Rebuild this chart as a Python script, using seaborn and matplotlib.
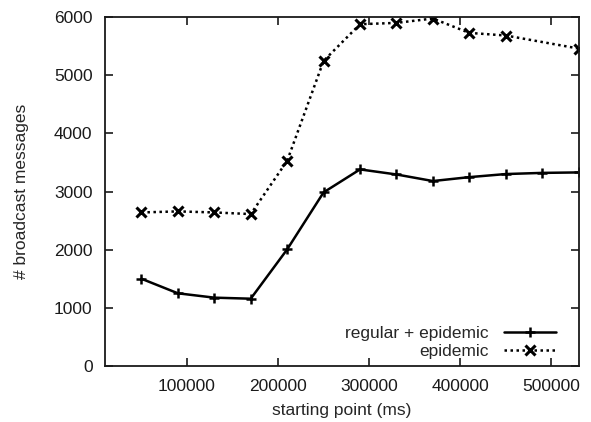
import matplotlib
matplotlib.use("Agg")
import matplotlib.pyplot as plt
import seaborn as sns
import pandas as pd

# Start time of the broadcast (ms)
start_regular = [50000, 90000, 130000, 170000, 210000, 250000, 290000,
                 330000, 370000, 410000, 450000, 490000, 530000]
msgs_regular = [1500, 1250, 1175, 1157, 2005, 2985, 3380,
                3293, 3180, 3247, 3300, 3320, 3328]

start_epidemic = [50000, 90000, 130000, 170000, 210000, 250000, 290000,
                  330000, 370000, 410000, 450000, 530000]
msgs_epidemic = [2640, 2658, 2640, 2612, 3527, 5246, 5876,
                 5899, 5974, 5727, 5682, 5458]

x_ticks = [100000, 200000, 300000, 400000, 500000]
y_ticks = [0, 1000, 2000, 3000, 4000, 5000, 6000]

sns.set_style("ticks")
plt.rcParams["font.family"] = ["Liberation Sans", "DejaVu Sans"]
plt.rcParams["font.size"] = 12.5

fig = plt.figure(figsize=(5.91, 4.22), dpi=100)
ax = fig.add_axes([0.1777, 0.1327, 0.979 - 0.1777, 0.9597 - 0.1327])

df_reg = pd.DataFrame({"x": start_regular, "y": msgs_regular})
df_epi = pd.DataFrame({"x": start_epidemic, "y": msgs_epidemic})

sns.lineplot(data=df_reg, x="x", y="y", ax=ax, color="black", linewidth=1.8,
             marker="+", markersize=7.5, markeredgewidth=1.8,
             markeredgecolor="black", label="regular + epidemic")
sns.lineplot(data=df_epi, x="x", y="y", ax=ax, color="black", linewidth=1.8,
             linestyle=(0, (1, 1.4)), marker="x", markersize=7,
             markeredgewidth=2.2, markeredgecolor="black", label="epidemic")

ax.set_xlim(10000, 530000)
ax.set_ylim(0, 6000)
ax.set_xticks(x_ticks)
ax.set_yticks(y_ticks)
ax.set_xticklabels([str(v) for v in x_ticks])
ax.set_yticklabels([str(v) for v in y_ticks])
ax.tick_params(direction="in", length=5.5, width=1.2, top=True, right=True,
               labelsize=12.5, pad=9, colors="#1a1a1a")
for s in ax.spines.values():
    s.set_linewidth(1.3)
    s.set_color("#1a1a1a")

ax.set_xlabel("starting point (ms)", fontsize=12.5, labelpad=7)
ax.set_ylabel("# broadcast messages", fontsize=12.5, labelpad=18)

leg = ax.legend(loc="lower right", bbox_to_anchor=(0.968, 0.0),
                frameon=False, markerfirst=False,
                handlelength=3.0, handletextpad=0.9, labelspacing=0.15,
                borderaxespad=0.0, fontsize=12.5)
for t in leg.get_texts():
    t.set_ha("right")
leg._legend_box.align = "right"

fig.savefig("out.png", dpi=100)
